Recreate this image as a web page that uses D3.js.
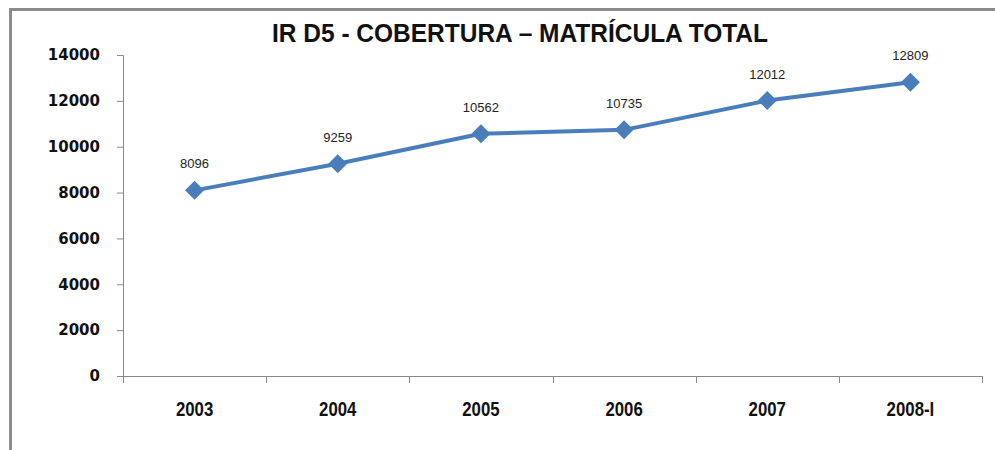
<!DOCTYPE html>
<html>
<head>
<meta charset="utf-8">
<script src="https://cdn.jsdelivr.net/npm/d3@7"></script>
<style>
  html, body { margin: 0; padding: 0; background: #fff; }
  svg { display: block; }
</style>
</head>
<body>
<svg id="chart" width="995" height="450"></svg>
<script>
const years = ["2003", "2004", "2005", "2006", "2007", "2008-I"];
const matricula = [8096, 9259, 10562, 10735, 12012, 12809];
const yTicks = [0, 2000, 4000, 6000, 8000, 10000, 12000, 14000];

const svg = d3.select("#chart");
const width = 995, height = 450;
const margin = { top: 55, right: 13, bottom: 74, left: 123 };

// marco del gráfico
svg.append("path")
    .attr("d", `M10.5,${height} V9.5 H${width}`)
    .attr("fill", "none")
    .attr("stroke", "#8c8c8c")
    .attr("stroke-width", 3);

const x = d3.scaleBand()
    .domain(years)
    .range([margin.left, width - margin.right]);

const y = d3.scaleLinear()
    .domain([0, 14000])
    .range([height - margin.bottom, margin.top]);

const axisColor = "#8a8a8a";

// eje Y
const yAxis = svg.append("g")
    .attr("transform", `translate(${margin.left},0)`)
    .call(d3.axisLeft(y).tickValues(yTicks).tickSize(6).tickPadding(17).tickFormat(d3.format("d")));
yAxis.select(".domain").attr("stroke", axisColor);
yAxis.selectAll(".tick line").attr("stroke", axisColor);
yAxis.selectAll(".tick text")
    .attr("fill", "#111")
    .style("font-family", "'DejaVu Sans', Verdana, sans-serif")
    .style("font-size", "15px")
    .style("font-weight", "bold");

// eje X
const xAxis = svg.append("g")
    .attr("transform", `translate(0,${height - margin.bottom})`)
    .call(d3.axisBottom(x).tickSize(0).tickPadding(26));
xAxis.select(".domain").attr("stroke", axisColor);
xAxis.selectAll(".tick text")
    .attr("fill", "#111")
    .attr("transform", "scale(0.84,1)")
    .style("font-family", "'Liberation Sans', Arial, sans-serif")
    .style("font-size", "20px")
    .style("font-weight", "bold");

// marcas entre categorías
const bounds = years.map(d => x(d)).concat([x(years[years.length - 1]) + x.bandwidth()]);
xAxis.selectAll(".sep")
    .data(bounds)
    .enter()
    .append("line")
    .attr("class", "sep")
    .attr("x1", d => Math.round(d) + 0.5)
    .attr("x2", d => Math.round(d) + 0.5)
    .attr("y1", 0)
    .attr("y2", 7)
    .attr("stroke", axisColor);

const cx = d => x(d) + x.bandwidth() / 2;

// línea
const line = d3.line()
    .x((d, i) => cx(years[i]))
    .y(d => y(d));

svg.append("path")
    .datum(matricula)
    .attr("d", line)
    .attr("fill", "none")
    .attr("stroke", "#4a7ebb")
    .attr("stroke-width", 4)
    .attr("stroke-linejoin", "round");

// marcadores rombo
svg.selectAll(".pt")
    .data(matricula)
    .enter()
    .append("path")
    .attr("class", "pt")
    .attr("transform", (d, i) => `translate(${cx(years[i])},${y(d)})`)
    .attr("d", "M0,-9.5 L9.5,0 L0,9.5 L-9.5,0 Z")
    .attr("fill", "#4a7ebb");

// etiquetas de datos
svg.selectAll(".lbl")
    .data(matricula)
    .enter()
    .append("text")
    .attr("class", "lbl")
    .attr("x", (d, i) => cx(years[i]))
    .attr("y", d => y(d) - 22)
    .attr("text-anchor", "middle")
    .attr("fill", "#222")
    .style("font-family", "'Liberation Sans', Arial, sans-serif")
    .style("font-size", "13px")
    .text(d => d);

// título
svg.append("text")
    .attr("x", 520)
    .attr("y", 42)
    .attr("text-anchor", "middle")
    .attr("textLength", 496)
    .attr("lengthAdjust", "spacingAndGlyphs")
    .attr("fill", "#111")
    .style("font-family", "'Liberation Sans', Arial, sans-serif")
    .style("font-size", "25px")
    .style("font-weight", "bold")
    .text("IR D5 - COBERTURA – MATRÍCULA TOTAL");
</script>
</body>
</html>
